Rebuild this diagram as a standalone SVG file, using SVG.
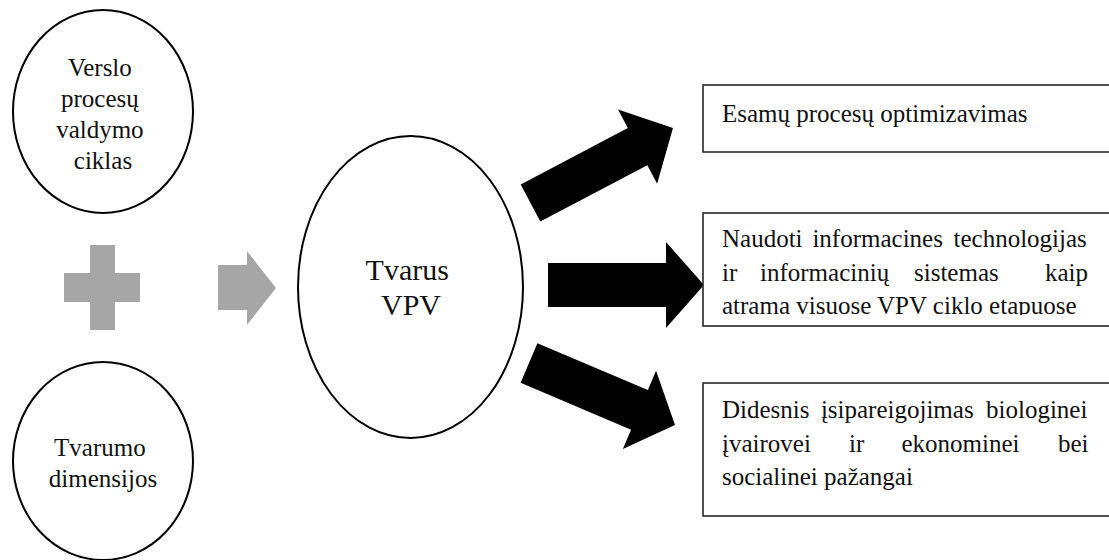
<svg xmlns="http://www.w3.org/2000/svg" width="1109" height="560" viewBox="0 0 1109 560">
  <style>
    .oval { fill: #ffffff; stroke: #000000; stroke-width: 2; }
    .box { fill: #ffffff; stroke: #262626; stroke-width: 1.6; }
    .lbl { font-family: "Liberation Serif", "Times New Roman", serif; font-size: 25px; fill: #111111; }
    .mid { text-anchor: middle; }
    .big { font-size: 30px; }
    .grey { fill: #a6a6a6; }
    .fat { fill: #000000; }
  </style>
  <defs>
    <clipPath id="box2clip">
      <rect x="703" y="213" width="410" height="102"/>
    </clipPath>
  </defs>

  <rect width="1109" height="560" fill="#ffffff"/>

  <!-- connectors and symbols -->
  <g id="connectors">
    <!-- plus sign between the two input circles -->
    <path class="grey" d="M90,245 H115 V273 H140 V302 H115 V330 H90 V302 H64 V273 H90 Z"/>
    <!-- grey arrow into the central oval -->
    <path class="grey" d="M218,265 H247 V251 L276,288 L247,325 V310 H218 Z"/>
    <!-- three block arrows out of the central oval -->
    <path class="fat" transform="translate(530.5,203) rotate(-27.76)" d="M0,-21 H121 V-42 L161,0 L121,42 V21 H0 Z"/>
    <path class="fat" d="M548,263 H666 V242 L704,285 L666,328 V307 H548 Z"/>
    <path class="fat" transform="translate(529,363) rotate(23)" d="M0,-21.5 H120 V-42.5 L158.6,0 L120,42.5 V21.5 H0 Z"/>
  </g>

  <g id="node-vpv-ciklas">
    <ellipse class="oval" cx="103" cy="111.5" rx="90" ry="101.5"/>
    <text class="lbl mid">
      <tspan x="103" y="76">Verslo</tspan>
      <tspan x="103" y="107">procesų</tspan>
      <tspan x="103" y="138">valdymo</tspan>
      <tspan x="103" y="169">ciklas</tspan>
    </text>
  </g>

  <g id="node-tvarumo-dimensijos">
    <ellipse class="oval" cx="103" cy="461" rx="90" ry="99"/>
    <text class="lbl mid">
      <tspan x="103" y="456">Tvarumo</tspan>
      <tspan x="103" y="487">dimensijos</tspan>
    </text>
  </g>

  <g id="node-tvarus-vpv">
    <ellipse class="oval" cx="410.5" cy="287" rx="112.5" ry="151"/>
    <text class="lbl big mid">
      <tspan x="411" y="280">Tvarus</tspan>
      <tspan x="411" y="315">VPV</tspan>
    </text>
  </g>

  <g id="node-optimizavimas">
    <rect class="box" x="703" y="85" width="420" height="67"/>
    <text class="lbl" x="722" y="122">Esamų procesų optimizavimas</text>
  </g>

  <g id="node-it">
    <rect class="box" x="703" y="213" width="420" height="113"/>
    <g clip-path="url(#box2clip)">
      <text class="lbl" y="247">
        <tspan x="722">Naudoti</tspan>
        <tspan x="812.4">informacines</tspan>
        <tspan x="953.5">technologijas</tspan>
      </text>
      <text class="lbl" y="281">
        <tspan x="722">ir</tspan>
        <tspan x="760">informacinių</tspan>
        <tspan x="914">sistemas</tspan>
        <tspan x="1045">kaip</tspan>
      </text>
      <text class="lbl" x="722" y="314">atrama visuose VPV ciklo etapuose</text>
    </g>
  </g>

  <g id="node-biologine">
    <rect class="box" x="703" y="383" width="420" height="133"/>
    <text class="lbl" y="418">
      <tspan x="722">Didesnis</tspan>
      <tspan x="820.9">įsipareigojimas</tspan>
      <tspan x="986">biologinei</tspan>
    </text>
    <text class="lbl" y="451.5">
      <tspan x="722">įvairovei</tspan>
      <tspan x="849">ir</tspan>
      <tspan x="901.4">ekonominei</tspan>
      <tspan x="1058">bei</tspan>
    </text>
    <text class="lbl" x="722" y="485">socialinei pažangai</text>
  </g>
</svg>
